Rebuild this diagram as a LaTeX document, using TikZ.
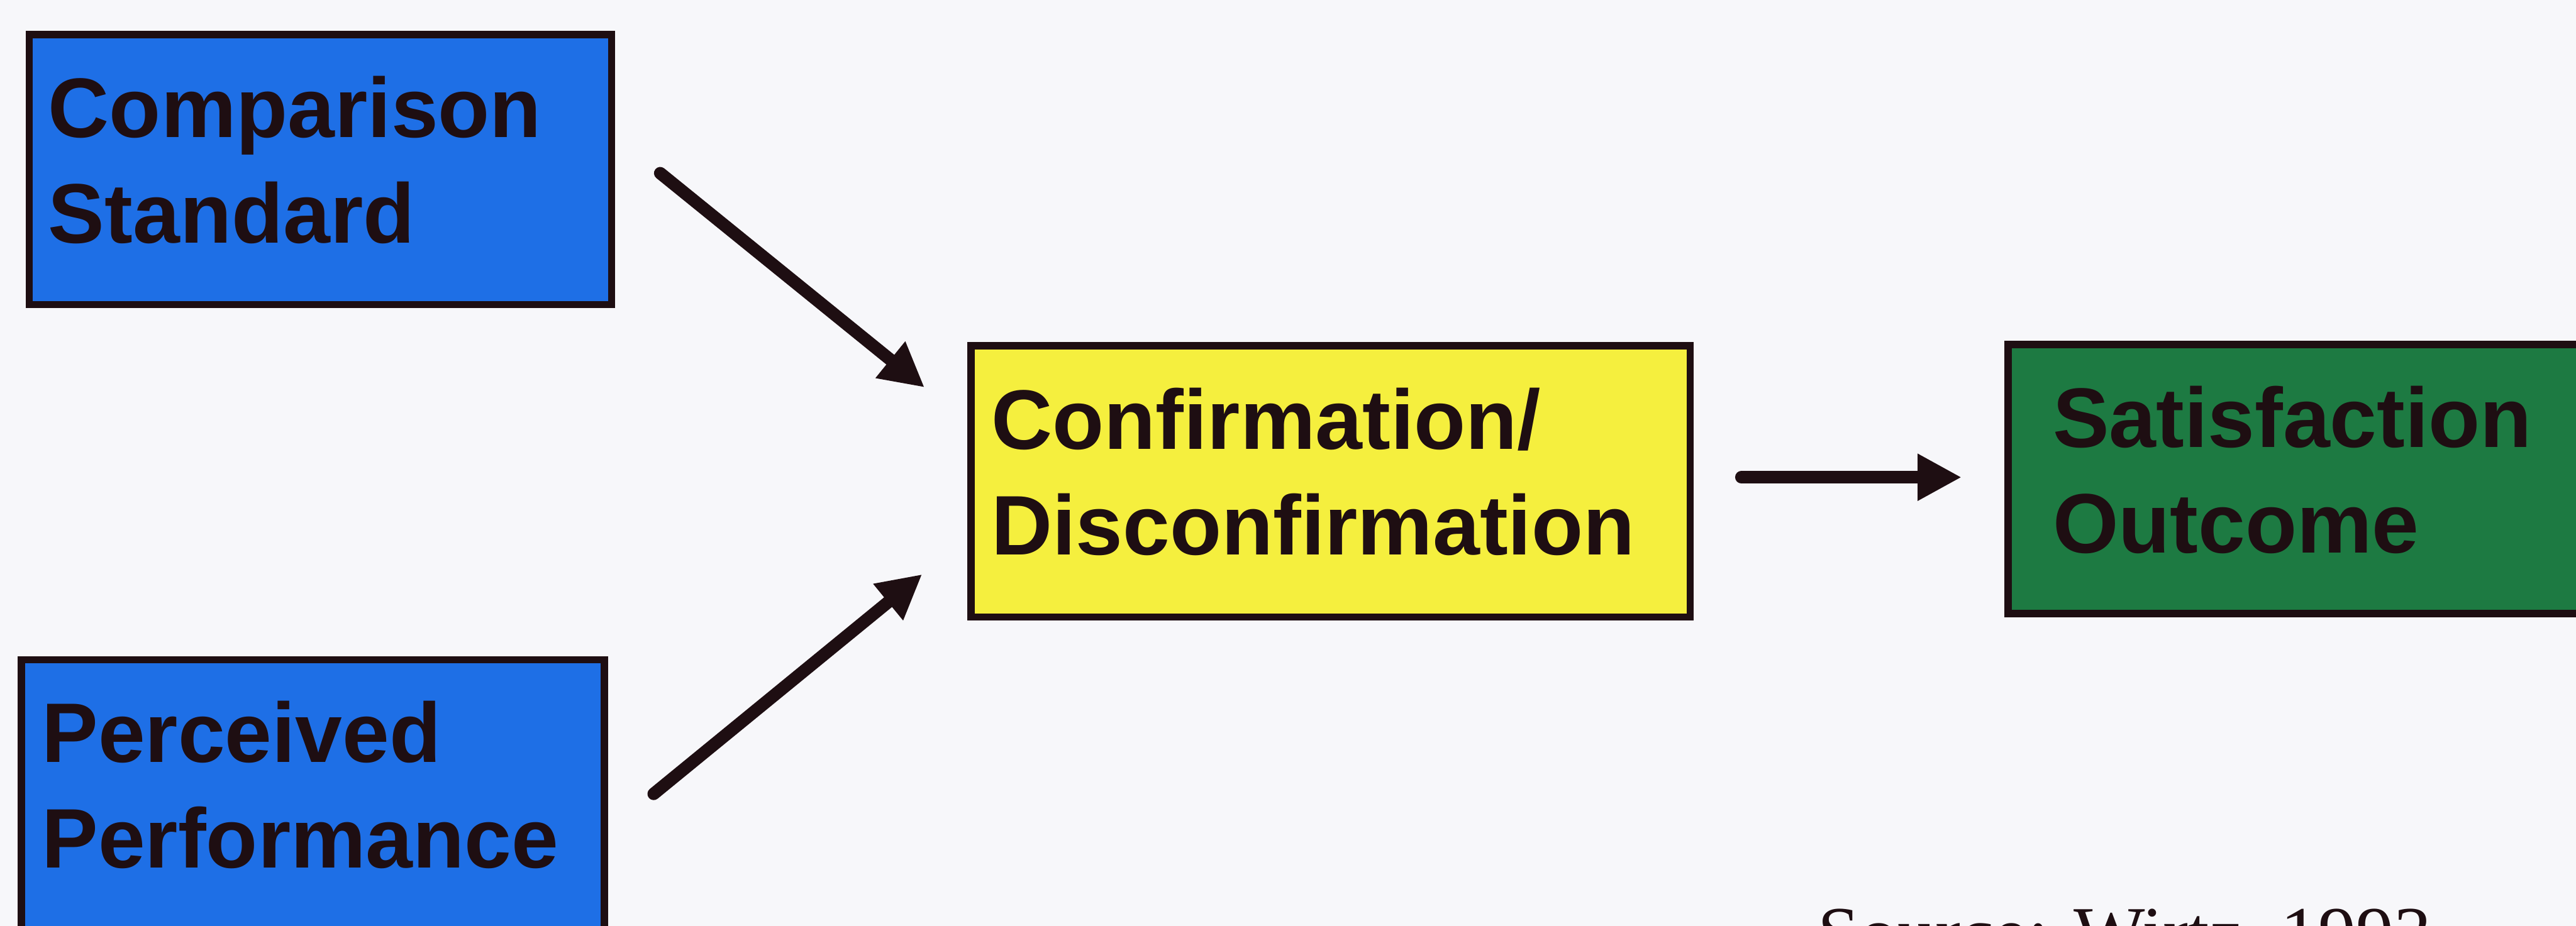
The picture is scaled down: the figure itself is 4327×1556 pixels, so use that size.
\documentclass[tikz,border=0pt]{standalone}
\usepackage{fontspec}
\setmainfont{Liberation Sans}
\newfontfamily\srcfont{Liberation Serif}
\usetikzlibrary{arrows.meta}
\definecolor{bgpaper}{HTML}{F7F7FA}
\definecolor{inkdark}{HTML}{1E0E12}
\definecolor{boxblue}{HTML}{1E6FE6}
\definecolor{boxyellow}{HTML}{F5EF3E}
\definecolor{boxgreen}{HTML}{1D7A42}
\tikzset{
  box/.style={draw=inkdark, line width=12pt, outer sep=6pt, rectangle,
    inner sep=0pt, anchor=north west},
  boxlabel/.style={anchor=base west, inner sep=0pt, text=inkdark,
    font=\bfseries\fontsize{142}{177}\selectfont},
  flow/.style={draw=inkdark, line width=21pt, line cap=round,
    -{Triangle[length=74pt,width=74pt]}},
  srclabel/.style={anchor=base west, inner sep=0pt, text=inkdark,
    font=\srcfont\fontsize{127}{150}\selectfont},
}
\begin{document}
\begin{tikzpicture}[x=1pt,y=-1pt]
\useasboundingbox (0,0) rectangle (4327,1556);
\clip (0,0) rectangle (4327,1556);
\fill[bgpaper] (0,0) rectangle (4327,1556);

% boxes
\node[box, fill=boxblue, minimum width=978pt, minimum height=454pt] (cs) at (43,52) {};
\node[box, fill=boxblue, minimum width=979pt, minimum height=588pt] (pp) at (30,1103) {};
\node[box, fill=boxyellow, minimum width=1208pt, minimum height=456pt] (cd) at (1625,575) {};
\node[box, fill=boxgreen, minimum width=1041pt, minimum height=452pt] (so) at (3367,573) {};

% box texts
\node[boxlabel] (cstext) at (81,231) {\vtop{\hbox{Comparison}\hbox{Standard}}};
\node[boxlabel] (pptext) at (70,1281) {\vtop{\hbox{Perceived}\hbox{Performance}}};
\node[boxlabel] (cdtext) at (1665,755) {\vtop{\hbox{Confirmation/}\hbox{Disconfirmation}}};
\node[boxlabel] (sotext) at (3448,752) {\vtop{\hbox{Satisfaction}\hbox{Outcome}}};

% connectors
\draw[flow] ([shift={(76,6)}]cs.east) -- ([shift={(-72,-158)}]cd.west);
\draw[flow] ([shift={(77,231)}]pp.north east) -- ([shift={(-76,156)}]cd.west);
\draw[flow] ([shift={(80,-7)}]cd.east) -- ([shift={(-72,-3)}]so.west);

% source line
\node[srclabel] (src) at (3053,1612) {Source: Wirtz, 1993};
\end{tikzpicture}
\end{document}
